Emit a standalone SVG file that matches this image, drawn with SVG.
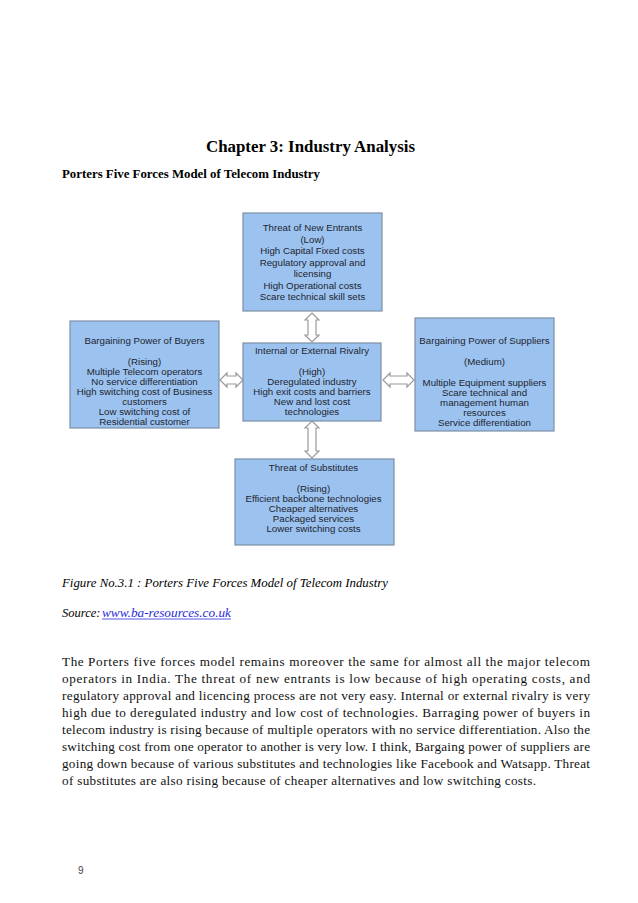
<svg xmlns="http://www.w3.org/2000/svg" width="638" height="903" viewBox="0 0 638 903">
<style>
.box{fill:#9cc3ef;stroke:#7d8fa6;stroke-width:1.2}
.bt{font-family:"Liberation Sans",Arial,sans-serif;font-size:9.7px;fill:#1e2430;text-anchor:middle}
.arr{fill:#ffffff;stroke:#9a9a9a;stroke-width:1.2}
.serif{font-family:"Liberation Serif","Times New Roman",serif;fill:#000}
.body{font-family:"Liberation Serif","Times New Roman",serif;font-size:13.2px;fill:#111}
</style>
<rect width="638" height="903" fill="#ffffff"/>
<text class="serif" x="206" y="152" font-size="16.5" font-weight="bold" textLength="209" lengthAdjust="spacingAndGlyphs">Chapter 3: Industry  Analysis</text>
<text class="serif" x="62" y="178" font-size="11.5" font-weight="bold" textLength="258" lengthAdjust="spacingAndGlyphs">Porters Five Forces Model of Telecom Industry</text>

<g id="connectors">
<path class="arr" d="M312,313 L319,320 L316,320 L316,335 L319,335 L312,342 L305,335 L308,335 L308,320 L305,320 Z"/>
<path class="arr" d="M312,421 L319,428 L316,428 L316,451 L319,451 L312,458 L305,451 L308,451 L308,428 L305,428 Z"/>
<path class="arr" d="M220,380 L227,373 L227,376 L236,376 L236,373 L243,380 L236,387 L236,384 L227,384 L227,387 Z"/>
<path class="arr" d="M383,380 L390,373 L390,376 L407,376 L407,373 L414,380 L407,387 L407,384 L390,384 L390,387 Z"/>
</g>

<g id="new-entrants">
<rect class="box" x="243" y="213" width="139" height="98"/>
<text class="bt" x="312.5" y="231">Threat of New Entrants</text>
<text class="bt" x="312.5" y="242.5">(Low)</text>
<text class="bt" x="312.5" y="254">High Capital Fixed costs</text>
<text class="bt" x="312.5" y="265.5">Regulatory approval and</text>
<text class="bt" x="312.5" y="277">licensing</text>
<text class="bt" x="312.5" y="288.5">High Operational costs</text>
<text class="bt" x="312.5" y="300">Scare technical skill sets</text>
</g>

<g id="buyers">
<rect class="box" x="70" y="321" width="149" height="107"/>
<text class="bt" x="144.5" y="344">Bargaining Power of Buyers</text>
<text class="bt" x="144.5" y="365">(Rising)</text>
<text class="bt" x="144.5" y="375">Multiple Telecom operators</text>
<text class="bt" x="144.5" y="385">No service differentiation</text>
<text class="bt" x="144.5" y="395">High switching cost of Business</text>
<text class="bt" x="144.5" y="405">customers</text>
<text class="bt" x="144.5" y="415">Low switching cost of</text>
<text class="bt" x="144.5" y="425">Residential customer</text>
</g>

<g id="rivalry">
<rect class="box" x="243" y="343" width="138" height="78"/>
<text class="bt" x="312" y="354">Internal or External Rivalry</text>
<text class="bt" x="312" y="375">(High)</text>
<text class="bt" x="312" y="385">Deregulated industry</text>
<text class="bt" x="312" y="395">High exit costs and barriers</text>
<text class="bt" x="312" y="405">New and lost cost</text>
<text class="bt" x="312" y="415">technologies</text>
</g>

<g id="suppliers">
<rect class="box" x="415" y="318" width="139" height="113"/>
<text class="bt" x="484.5" y="344">Bargaining Power of Suppliers</text>
<text class="bt" x="484.5" y="365">(Medium)</text>
<text class="bt" x="484.5" y="386">Multiple Equipment suppliers</text>
<text class="bt" x="484.5" y="396">Scare technical and</text>
<text class="bt" x="484.5" y="406">management human</text>
<text class="bt" x="484.5" y="416">resources</text>
<text class="bt" x="484.5" y="426">Service differentiation</text>
</g>

<g id="substitutes">
<rect class="box" x="235" y="459" width="159" height="86"/>
<text class="bt" x="313.5" y="471">Threat of Substitutes</text>
<text class="bt" x="313.5" y="492">(Rising)</text>
<text class="bt" x="313.5" y="502">Efficient backbone technologies</text>
<text class="bt" x="313.5" y="512">Cheaper alternatives</text>
<text class="bt" x="313.5" y="522">Packaged services</text>
<text class="bt" x="313.5" y="532">Lower switching costs</text>
</g>

<text class="serif" x="62" y="587" font-size="12.5" font-style="italic" textLength="326" lengthAdjust="spacingAndGlyphs">Figure No.3.1 : Porters Five Forces Model of Telecom Industry</text>
<text class="serif" x="62" y="617" font-size="12.5" font-style="italic">Source:</text>
<text x="102" y="617" font-family="'Liberation Serif','Times New Roman',serif" font-size="12.5" font-style="italic" fill="#2b2bd6" textLength="129" lengthAdjust="spacingAndGlyphs">www.ba-resources.co.uk</text>
<line x1="102" y1="619" x2="231" y2="619" stroke="#2b2bd6" stroke-width="0.8"/>

<g class="body">
<text x="62" y="666" textLength="528" lengthAdjust="spacing">The Porters five forces model remains moreover the same for almost all the major telecom</text>
<text x="62" y="683" textLength="528" lengthAdjust="spacing">operators in India. The threat of new entrants is low because of high operating costs, and</text>
<text x="62" y="700" textLength="528" lengthAdjust="spacing">regulatory approval and licencing process are not very easy. Internal or external rivalry is very</text>
<text x="62" y="717" textLength="528" lengthAdjust="spacing">high due to deregulated industry and low cost of technologies. Barraging power of buyers in</text>
<text x="62" y="734" textLength="528" lengthAdjust="spacing">telecom industry is rising because of multiple operators with no service differentiation. Also the</text>
<text x="62" y="751" textLength="528" lengthAdjust="spacing">switching cost from one operator to another is very low. I think, Bargaing power of suppliers are</text>
<text x="62" y="768" textLength="528" lengthAdjust="spacing">going down because of various substitutes and technologies like Facebook and Watsapp. Threat</text>
<text x="62" y="785" textLength="474" lengthAdjust="spacing">of substitutes are also rising because of cheaper alternatives and low switching costs.</text>
</g>

<text x="78" y="874" font-family="'Liberation Sans',Arial,sans-serif" font-size="10" fill="#444">9</text>
</svg>
